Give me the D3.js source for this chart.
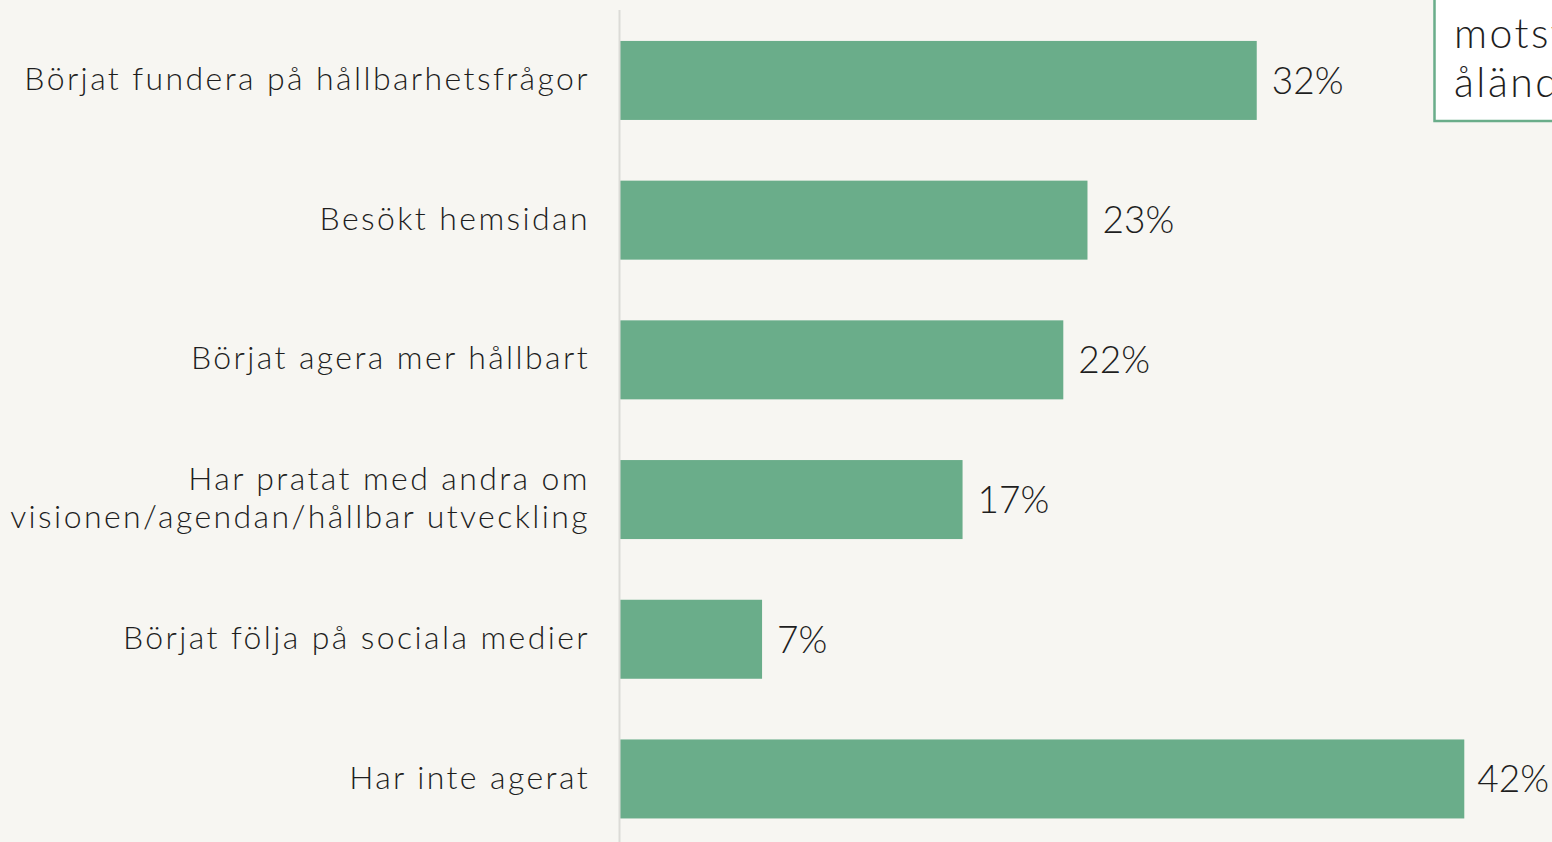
<!DOCTYPE html>
<html>
<head>
<meta charset="utf-8">
<script src="https://cdn.jsdelivr.net/npm/d3@7"></script>
<style>
  html, body { margin: 0; padding: 0; background: #f7f6f2; overflow: hidden; }
  text { font-family: "Lato", "Open Sans", sans-serif; font-weight: 300; fill: #1e1e1e; }
</style>
</head>
<body>
<script>
// categories, top to bottom
var categories = [
  ["Börjat fundera på hållbarhetsfrågor"],
  ["Besökt hemsidan"],
  ["Börjat agera mer hållbart"],
  ["Har pratat med andra om", "visionen/agendan/hållbar utveckling"],
  ["Börjat följa på sociala medier"],
  ["Har inte agerat"]
];
var values = [31.6, 23.2, 22.0, 17.0, 7.05, 41.9];
var valueLabels = ["32%", "23%", "22%", "17%", "7%", "42%"];
var boxLines = ["motsvarande", "åländska"];

var width = 1552,
    height = 842;

var svg = d3.select("body").append("svg")
    .attr("width", width)
    .attr("height", height);

var x = d3.scaleLinear()
    .domain([0, 50])
    .range([620, 620 + 50 * 20.15]);

var y = d3.scaleBand()
    .domain(d3.range(categories.length))
    .range([13, 846.4])
    .paddingInner(0.4345)
    .paddingOuter(0.2);

svg.selectAll(".bar")
    .data(values)
  .enter().append("rect")
    .attr("class", "bar")
    .attr("x", x(0))
    .attr("y", (d, i) => y(i))
    .attr("width", d => x(d) - x(0))
    .attr("height", y.bandwidth())
    .style("fill", "#6aad8a");

// axis line
svg.append("line")
    .attr("x1", 619.5).attr("x2", 619.5)
    .attr("y1", 10).attr("y2", height)
    .style("stroke", "#dcdbd7")
    .style("stroke-width", 2);

// value labels, pulled left when they would run off the edge
svg.selectAll(".val")
    .data(values)
  .enter().append("text")
    .attr("class", "val")
    .attr("x", d => x(d) + 15)
    .attr("y", (d, i) => y(i) + y.bandwidth() / 2)
    .attr("dy", "0.36em")
    .style("font-size", "37px")
    .text((d, i) => valueLabels[i])
    .each(function(d) {
      var w = this.getComputedTextLength();
      if (x(d) + 15 + w > width - 3) {
        d3.select(this).attr("x", Math.max(x(d) + 6, width - 3 - w));
      }
    });

// category labels
var cat = svg.selectAll(".cat")
    .data(categories)
  .enter().append("text")
    .attr("class", "cat")
    .attr("text-anchor", "end")
    .style("font-size", "32px")
    .style("letter-spacing", "2.4px")
    .attr("y", (d, i) => y(i) + y.bandwidth() / 2);

cat.selectAll("tspan")
    .data(d => d.map((t, j) => ({ t: t, j: j, n: d.length })))
  .enter().append("tspan")
    .attr("x", 590)
    .attr("dy", d => d.j === 0 ? (0.3 - (d.n - 1) * 0.6) + "em" : "1.2em")
    .text(d => d.t);

// annotation box, cut by the right edge
svg.append("rect")
    .attr("x", 1434.5)
    .attr("y", -10)
    .attr("width", 200)
    .attr("height", 131)
    .style("fill", "#ffffff")
    .style("stroke", "#6aad8a")
    .style("stroke-width", 2.5);

svg.selectAll(".box")
    .data(boxLines)
  .enter().append("text")
    .attr("class", "box")
    .attr("x", 1454)
    .attr("y", (d, i) => 48 + i * 49)
    .style("font-size", "41px")
    .style("letter-spacing", "2.5px")
    .text(d => d);
</script>
</body>
</html>
